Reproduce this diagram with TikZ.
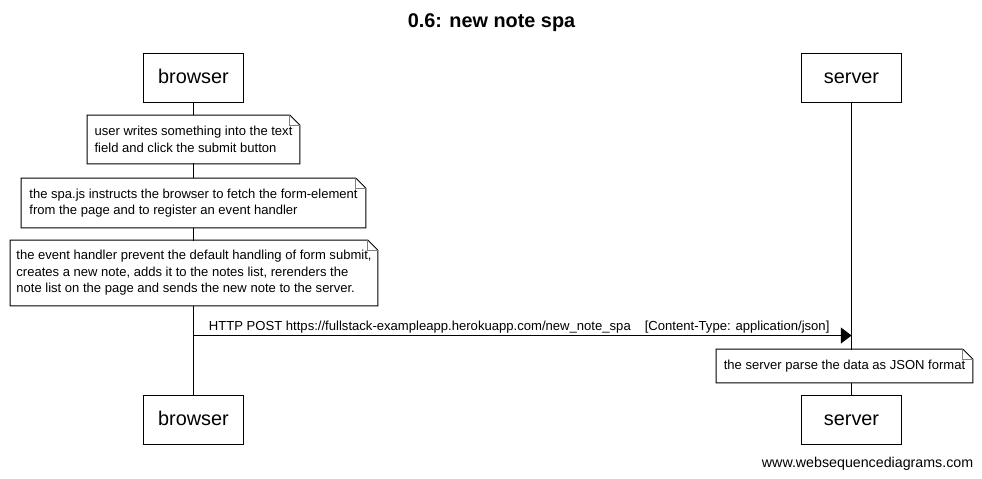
\documentclass[tikz,border=0pt]{standalone}
\usepackage{fontspec}
\setmainfont{Liberation Sans}
\usepackage{xcolor}
\usetikzlibrary{arrows.meta,positioning,calc}
\definecolor{seqInk}{HTML}{000000}
\tikzset{
  actorBox/.style={
    rectangle,
    draw=seqInk,
    line width=0.55pt,
    minimum width=100*0.02cm,
    minimum height=49*0.02cm,
    text height=8.2pt,
    text depth=2.4pt,
    font=\fontsize{11.3}{13}\selectfont
  },
  noteBox/.style={
    rectangle,
    fill=white,
    inner xsep=0pt,
    inner ysep=0pt,
    align=left,
    font=\fontsize{7.42}{9.4}\selectfont
  },
  lifeLine/.style={
    line width=0.55pt,
    draw=seqInk
  },
  msgArrow/.style={
    -{Triangle[length=6pt,width=9pt]},
    line width=0.55pt,
    draw=seqInk
  },
  msgLabel/.style={
    font=\fontsize{7.45}{9}\selectfont,
    inner sep=0pt
  }
}

\begin{document}
\begin{tikzpicture}[x=0.02cm,y=-0.02cm]
  \useasboundingbox (-0.5,-0.5) rectangle (981.5,478.5);
  \node[font=\bfseries\fontsize{11.3}{13}\selectfont] (title) at (491,22) {0.6: new note spa};
  % participants
  \node[actorBox] (browserTop) at (193,77.5) {browser};
  \node[actorBox] (serverTop) at (851,77.5) {server};
  \node[actorBox] (browserBot) at (193,419.5) {browser};
  \node[actorBox] (serverBot) at (851,419.5) {server};
  \draw[lifeLine] (browserTop) -- (browserBot);
  \draw[lifeLine] (serverTop) -- (serverBot);
  % notes
  \node[noteBox,minimum width=212*0.02cm,minimum height=48*0.02cm] (typeNote) at (193,139)
    {user writes something into the text\\field and click the submit button};
  \node[noteBox,minimum width=344*0.02cm,minimum height=49*0.02cm] (fetchNote) at (193,202.5)
    {the spa.js instructs the browser to fetch the form-element\\from the page and to register an event handler};
  \node[noteBox,minimum width=367*0.02cm,minimum height=65*0.02cm] (handlerNote) at (193.5,272.5)
    {the event handler prevent the default handling of form submit,\\creates a new note, adds it to the notes list, rerenders the\\note list on the page and sends the new note to the server.};
  \node[noteBox,minimum width=256*0.02cm,minimum height=33*0.02cm] (parseNote) at (844,365.5)
    {the server parse the data as JSON format};
  \foreach \n in {typeNote,fetchNote,handlerNote,parseNote} {
    \draw[line width=0.55pt] (\n.south west) -- (\n.south east) -- ([yshift=-10*0.02cm]\n.north east)
      -- ([xshift=-10*0.02cm]\n.north east) -- (\n.north west) -- cycle;
    \draw[line width=0.5pt,draw=gray] ([xshift=-10*0.02cm]\n.north east) |- ([yshift=-10*0.02cm]\n.north east);
  }
  % message
  \coordinate (postFrom) at (193,335);
  \coordinate (postTo) at (851,335);
  \draw[msgArrow] (postFrom) -- (postTo);
  \node[msgLabel,anchor=base west] (postText) at (208,330)
    {HTTP POST https://fullstack-exampleapp.herokuapp.com/new\_note\_spa\hspace{8pt}[Content-Type: application/json]};
  \node[msgLabel,font=\fontsize{8.1}{10}\selectfont,anchor=base east] (credit) at (973,467) {www.websequencediagrams.com};
\end{tikzpicture}
\end{document}
